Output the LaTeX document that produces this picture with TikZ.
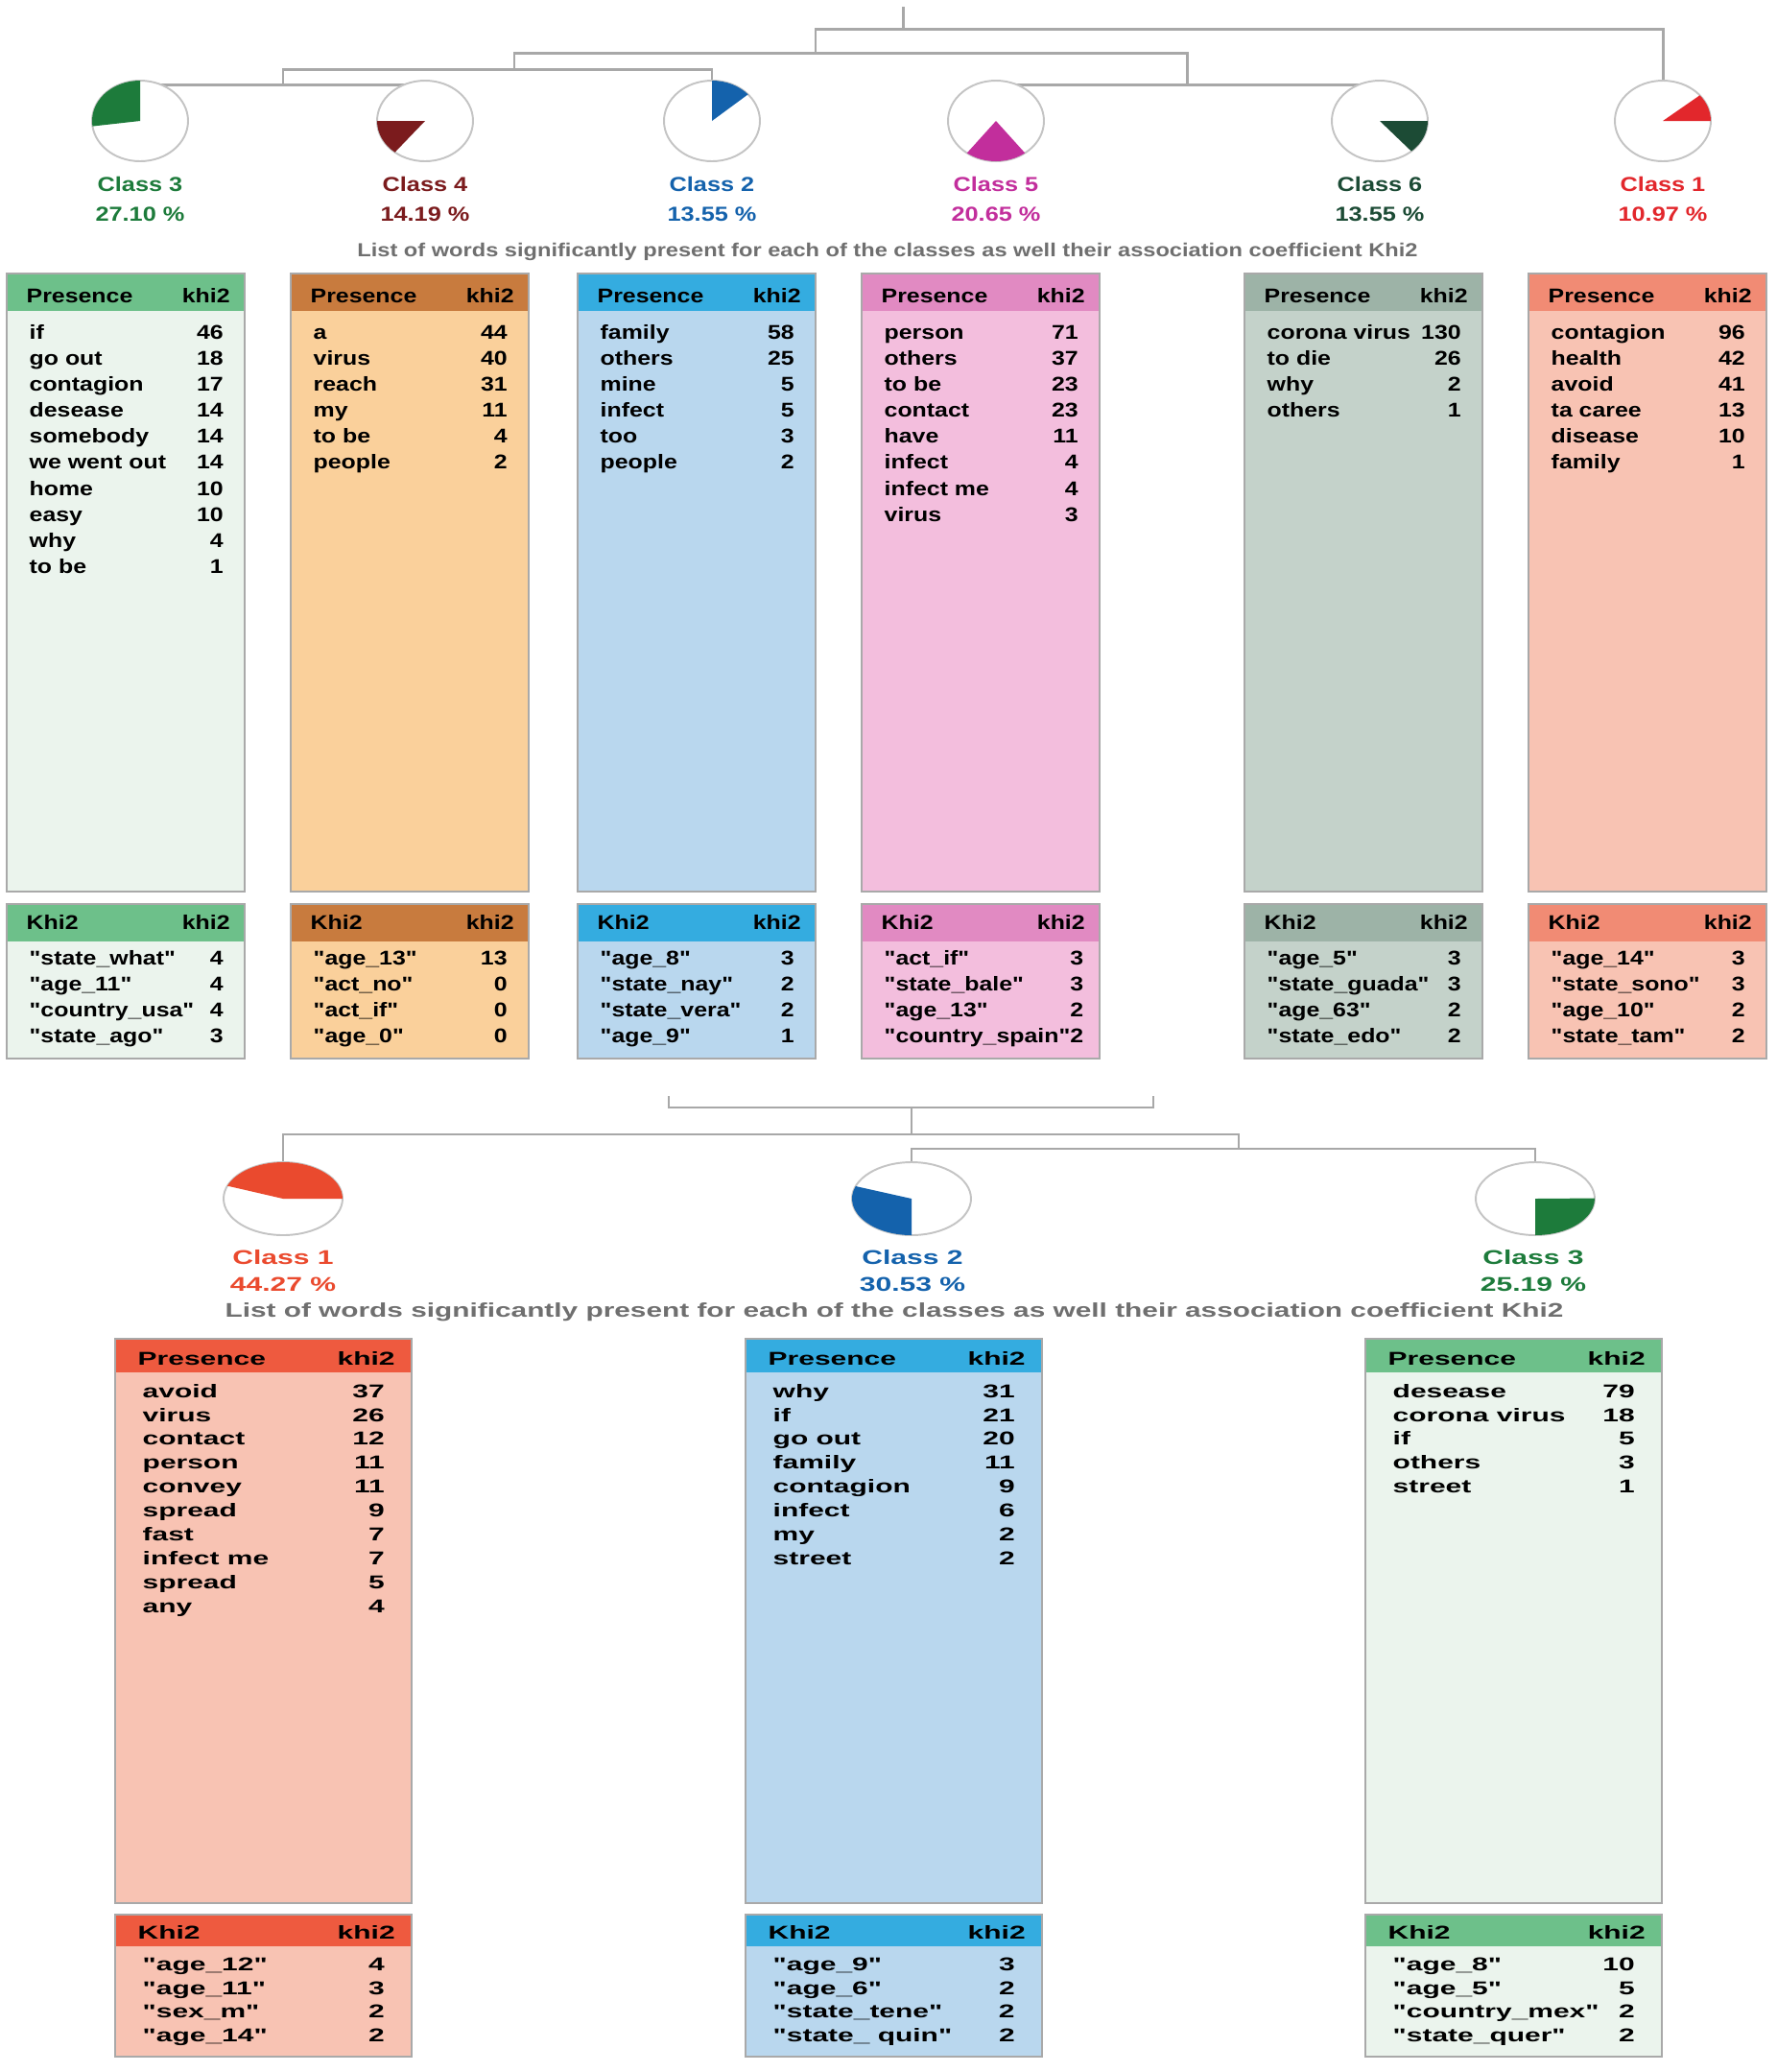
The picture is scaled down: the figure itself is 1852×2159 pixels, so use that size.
\documentclass[tikz,border=0pt]{standalone}
\usepackage{fontspec}
\setmainfont{Liberation Sans}
\newfontfamily\topfont[FakeStretch=1.2]{Liberation Sans}
\newfontfamily\lowfont[FakeStretch=1.45]{Liberation Sans}
\newfontfamily\lowtabfont[FakeStretch=1.55]{Liberation Sans}
\usetikzlibrary{calc,shapes.geometric}

\definecolor{treegray}{HTML}{A8A8A8}
\definecolor{piegray}{HTML}{C4C4C4}
\definecolor{boxgray}{HTML}{A9A9A9}
\definecolor{subgray}{HTML}{6F6F6F}
\definecolor{green3}{HTML}{1D7B3B}
\definecolor{greenhead}{HTML}{6DC08A}
\definecolor{greenbody}{HTML}{EBF4ED}
\definecolor{wine4}{HTML}{7B1B1D}
\definecolor{orangehead}{HTML}{C87B3E}
\definecolor{orangebody}{HTML}{FAD09B}
\definecolor{blue2}{HTML}{1462AC}
\definecolor{bluehead}{HTML}{34ACE0}
\definecolor{bluebody}{HTML}{B9D7EE}
\definecolor{magenta5}{HTML}{C22E9C}
\definecolor{pinkhead}{HTML}{E18AC2}
\definecolor{pinkbody}{HTML}{F3BEDD}
\definecolor{teal6}{HTML}{1C4B35}
\definecolor{sagehead}{HTML}{9DB3A7}
\definecolor{sagebody}{HTML}{C4D2CA}
\definecolor{red1}{HTML}{E2272C}
\definecolor{salmonhead}{HTML}{F18B74}
\definecolor{salmonbody}{HTML}{F8C3B3}
\definecolor{vermilion}{HTML}{EA4A2E}
\definecolor{redhead}{HTML}{EE5A3F}

\tikzset{
  tree/.style={draw=treegray, line width=0.85pt},
  pie/.style={ellipse, draw=piegray, line width=0.55pt, fill=white, inner sep=0pt, minimum width=1cm, minimum height=0.84cm},
  lowpie/.style={pie, minimum width=1.24cm, minimum height=0.76cm},
  tabbox/.style={draw=boxgray, line width=0.6pt},
  toplabel/.style={anchor=base, inner sep=0pt, font=\topfont\bfseries\fontsize{6}{7}\selectfont},
  lowlabel/.style={anchor=base, inner sep=0pt, font=\lowfont\bfseries\fontsize{5.9}{7}\selectfont},
  subtitle/.style={anchor=base, inner sep=0pt, text=subgray},
  tophead/.style={anchor=base west, inner sep=0pt, font=\topfont\bfseries\fontsize{5.9}{7.7}\selectfont},
  toprows/.style={anchor=north west, inner sep=0pt, font=\topfont\bfseries\fontsize{5.9}{7.7}\selectfont},
  lowhead/.style={anchor=base west, inner sep=0pt, font=\lowtabfont\bfseries\fontsize{5.5}{7.08}\selectfont},
  lowrows/.style={anchor=north west, inner sep=0pt, font=\lowtabfont\bfseries\fontsize{5.5}{7.08}\selectfont}
}

\def\piewedge[#1](#2)(#3:#4:#5:#6){\fill[#1] (#2) -- +(#3:#5 and #6) arc[start angle=#3, end angle=#4, x radius=#5, y radius=#6] -- cycle;}

% #1 left edge, #2 head colour, #3 body colour, #4 name, #5 presence rows, #6 khi2 rows
\newcommand{\toptable}[6]{%
  \fill[#3] (#1,-285) rectangle ++(248,-644);
  \fill[#2] (#1,-285) rectangle ++(248,-39);
  \draw[tabbox] (#1,-285) rectangle ++(248,-644);
  \node[tophead] (#4-ph) at (#1+20,-315) {\hbox to 2.12cm{Presence\hfil khi2}};
  \node[toprows] (#4-p) at (#1+23,-334) {\begin{tabular*}{2.02cm}{@{}l@{\extracolsep{\fill}}r@{}}#5\end{tabular*}};
  \fill[#3] (#1,-942) rectangle ++(248,-161);
  \fill[#2] (#1,-942) rectangle ++(248,-39);
  \draw[tabbox] (#1,-942) rectangle ++(248,-161);
  \node[tophead] (#4-kh) at (#1+20,-968) {\hbox to 2.12cm{Khi2\hfil khi2}};
  \node[toprows] (#4-k) at (#1+23,-986) {\begin{tabular*}{2.02cm}{@{}l@{\extracolsep{\fill}}r@{}}#6\end{tabular*}};
}
\newcommand{\lowtable}[6]{%
  \fill[#3] (#1,-1395) rectangle ++(309,-588);
  \fill[#2] (#1,-1395) rectangle ++(309,-35);
  \draw[tabbox] (#1,-1395) rectangle ++(309,-588);
  \node[lowhead] (#4-ph) at (#1+23,-1422) {\hbox to 2.68cm{Presence\hfil khi2}};
  \node[lowrows] (#4-p) at (#1+28,-1438) {\begin{tabular*}{2.52cm}{@{}l@{\extracolsep{\fill}}r@{}}#5\end{tabular*}};
  \fill[#3] (#1,-1995) rectangle ++(309,-148);
  \fill[#2] (#1,-1995) rectangle ++(309,-33);
  \draw[tabbox] (#1,-1995) rectangle ++(309,-148);
  \node[lowhead] (#4-kh) at (#1+23,-2020) {\hbox to 2.68cm{Khi2\hfil khi2}};
  \node[lowrows] (#4-k) at (#1+28,-2035) {\begin{tabular*}{2.52cm}{@{}l@{\extracolsep{\fill}}r@{}}#6\end{tabular*}};
}

\begin{document}
\begin{tikzpicture}[x=0.1mm, y=0.1mm]
  \useasboundingbox (0,0) rectangle (1852,-2159);

  %%%%% TOP TREE %%%%%
  \coordinate (c3) at (146,-126);
  \coordinate (c4) at (443,-126);
  \coordinate (c2) at (742,-126);
  \coordinate (c5) at (1038,-126);
  \coordinate (c6) at (1438,-126);
  \coordinate (c1) at (1733,-126);
  \coordinate (j34) at (295,-88);
  \coordinate (j234) at (536,-72);
  \coordinate (j56) at (1237,-88);
  \coordinate (j2to6) at (850,-55);
  \coordinate (jall) at (941,-30);
  \coordinate (root) at (941,-7);

  \draw[tree] (c3 |- j34) -- (c4 |- j34);
  \draw[tree] (c5 |- j56) -- (c6 |- j56);
  \draw[tree] (j34) |- (j234) -| (c2);
  \draw[tree] (j234) |- (j2to6) -| (j56);
  \draw[tree] (j2to6) |- (jall) -| (c1);
  \draw[tree] (jall) -- (root);

  \node[pie] (pie3) at (c3) {};
  \node[pie] (pie4) at (c4) {};
  \node[pie] (pie2) at (c2) {};
  \node[pie] (pie5) at (c5) {};
  \node[pie] (pie6) at (c6) {};
  \node[pie] (pie1) at (c1) {};

  \piewedge[green3](pie3.center)(90:187.6:50:42)
  \piewedge[wine4](pie4.center)(180:231.1:50:42)
  \piewedge[blue2](pie2.center)(41.2:90:50:42)
  \piewedge[magenta5](pie5.center)(232.8:307.2:50:42)
  \piewedge[teal6](pie6.center)(311.2:360:50:42)
  \piewedge[red1](pie1.center)(0:39.5:50:42)

  \node[toplabel, text=green3] (name3) at (146,-199) {Class 3};
  \node[toplabel, text=green3] (share3) at (146,-230) {27.10 \%};
  \node[toplabel, text=wine4] (name4) at (443,-199) {Class 4};
  \node[toplabel, text=wine4] (share4) at (443,-230) {14.19 \%};
  \node[toplabel, text=blue2] (name2) at (742,-199) {Class 2};
  \node[toplabel, text=blue2] (share2) at (742,-230) {13.55 \%};
  \node[toplabel, text=magenta5] (name5) at (1038,-199) {Class 5};
  \node[toplabel, text=magenta5] (share5) at (1038,-230) {20.65 \%};
  \node[toplabel, text=teal6] (name6) at (1438,-199) {Class 6};
  \node[toplabel, text=teal6] (share6) at (1438,-230) {13.55 \%};
  \node[toplabel, text=red1] (name1) at (1733,-199) {Class 1};
  \node[toplabel, text=red1] (share1) at (1733,-230) {10.97 \%};

  \node[subtitle, font=\topfont\bfseries\fontsize{5.6}{7}\selectfont] (topcap) at (925,-267) {List of words significantly present for each of the classes as well their association coefficient Khi2};

  %%%%% TOP TABLES %%%%%
  \toptable{7}{greenhead}{greenbody}{t3}{if & 46\\ go out & 18\\ contagion & 17\\ desease & 14\\ somebody & 14\\ we went out & 14\\ home & 10\\ easy & 10\\ why & 4\\ to be & 1}{"state\_what" & 4\\ "age\_11" & 4\\ "country\_usa" & 4\\ "state\_ago" & 3}
  \toptable{303}{orangehead}{orangebody}{t4}{a & 44\\ virus & 40\\ reach & 31\\ my & 11\\ to be & 4\\ people & 2}{"age\_13" & 13\\ "act\_no" & 0\\ "act\_if" & 0\\ "age\_0" & 0}
  \toptable{602}{bluehead}{bluebody}{t2}{family & 58\\ others & 25\\ mine & 5\\ infect & 5\\ too & 3\\ people & 2}{"age\_8" & 3\\ "state\_nay" & 2\\ "state\_vera" & 2\\ "age\_9" & 1}
  \toptable{898}{pinkhead}{pinkbody}{t5}{person & 71\\ others & 37\\ to be & 23\\ contact & 23\\ have & 11\\ infect & 4\\ infect me & 4\\ virus & 3}{"act\_if" & 3\\ "state\_bale" & 3\\ "age\_13" & 2\\ "country\_spain" & 2}
  \toptable{1297}{sagehead}{sagebody}{t6}{corona virus & 130\\ to die & 26\\ why & 2\\ others & 1}{"age\_5" & 3\\ "state\_guada" & 3\\ "age\_63" & 2\\ "state\_edo" & 2}
  \toptable{1593}{salmonhead}{salmonbody}{t1}{contagion & 96\\ health & 42\\ avoid & 41\\ ta caree & 13\\ disease & 10\\ family & 1}{"age\_14" & 3\\ "state\_sono" & 3\\ "age\_10" & 2\\ "state\_tam" & 2}

  %%%%% LOWER TREE %%%%%
  \coordinate (d1) at (295,-1249);
  \coordinate (d2) at (950,-1249);
  \coordinate (d3) at (1600,-1249);
  \coordinate (stubl) at (697,-1142);
  \coordinate (stubr) at (1202,-1142);
  \coordinate (k0) at (950,-1154);
  \coordinate (k123) at (950,-1182);
  \coordinate (k23) at (1291,-1197);

  \draw[tree, line width=0.65pt] (stubl) |- (k0) -| (stubr);
  \draw[tree, line width=0.65pt] (k0) -- (k123);
  \draw[tree, line width=0.65pt] (d1) |- (k123) -| (k23);
  \draw[tree, line width=0.65pt] (d2) |- (k23) -| (d3);

  \node[lowpie] (low1) at (d1) {};
  \node[lowpie] (low2) at (d2) {};
  \node[lowpie] (low3) at (d3) {};

  \piewedge[vermilion](low1.center)(0:159.4:62:38)
  \piewedge[blue2](low2.center)(160:270:62:38)
  \piewedge[green3](low3.center)(270:360.7:62:38)

  \node[lowlabel, text=vermilion] (lname1) at (295,-1317) {Class 1};
  \node[lowlabel, text=vermilion] (lshare1) at (295,-1345) {44.27 \%};
  \node[lowlabel, text=blue2] (lname2) at (951,-1317) {Class 2};
  \node[lowlabel, text=blue2] (lshare2) at (951,-1345) {30.53 \%};
  \node[lowlabel, text=green3] (lname3) at (1598,-1317) {Class 3};
  \node[lowlabel, text=green3] (lshare3) at (1598,-1345) {25.19 \%};

  \node[subtitle, font=\lowfont\bfseries\fontsize{5.85}{7}\selectfont] (lowcap) at (932,-1372) {List of words significantly present for each of the classes as well their association coefficient Khi2};

  %%%%% LOWER TABLES %%%%%
  \lowtable{120}{redhead}{salmonbody}{b1}{avoid & 37\\ virus & 26\\ contact & 12\\ person & 11\\ convey & 11\\ spread & 9\\ fast & 7\\ infect me & 7\\ spread & 5\\ any & 4}{"age\_12" & 4\\ "age\_11" & 3\\ "sex\_m" & 2\\ "age\_14" & 2}
  \lowtable{777}{bluehead}{bluebody}{b2}{why & 31\\ if & 21\\ go out & 20\\ family & 11\\ contagion & 9\\ infect & 6\\ my & 2\\ street & 2}{"age\_9" & 3\\ "age\_6" & 2\\ "state\_tene" & 2\\ "state\_ quin" & 2}
  \lowtable{1423}{greenhead}{greenbody}{b3}{desease & 79\\ corona virus & 18\\ if & 5\\ others & 3\\ street & 1}{"age\_8" & 10\\ "age\_5" & 5\\ "country\_mex" & 2\\ "state\_quer" & 2}
\end{tikzpicture}
\end{document}
